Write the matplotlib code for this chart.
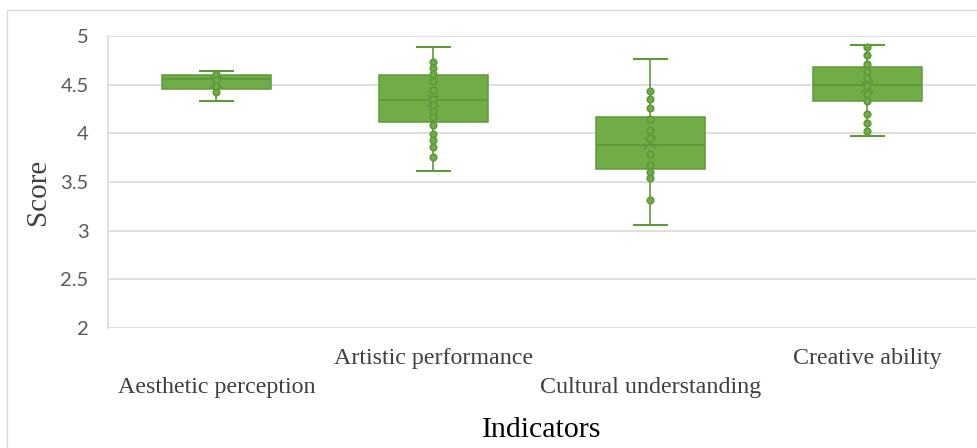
import numpy as np
import matplotlib.pyplot as plt
from matplotlib.patches import Rectangle
from matplotlib.transforms import ScaledTranslation

# categories and box statistics
categories = ["Aesthetic perception", "Artistic performance",
              "Cultural understanding", "Creative ability"]
whis_low = [4.33, 3.61, 3.06, 3.97]
q1 = [4.46, 4.12, 3.63, 4.33]
median = [4.56, 4.34, 3.88, 4.50]
q3 = [4.60, 4.60, 4.17, 4.68]
whis_high = [4.64, 4.89, 4.76, 4.91]
means = [4.53, 4.33, 3.90, 4.48]

# inner points
pts_aesthetic = [4.61, 4.55, 4.49, 4.42]
pts_artistic = [4.73, 4.67, 4.61, 4.54, 4.45, 4.35, 4.29, 4.23, 4.17,
                4.09, 3.99, 3.93, 3.86, 3.76]
pts_cultural = [4.43, 4.35, 4.26, 4.15, 4.03, 3.95, 3.79, 3.67, 3.60,
                3.54, 3.32]
pts_creative = [4.89, 4.80, 4.71, 4.64, 4.57, 4.49, 4.40, 4.33, 4.20,
                4.11, 4.02]
points = [pts_aesthetic, pts_artistic, pts_cultural, pts_creative]

yticks = [2, 2.5, 3, 3.5, 4, 4.5, 5]
ytick_labels = ["2", "2.5", "3", "3.5", "4", "4.5", "5"]

GREEN = "#70ad47"
DARK = "#5e9a3b"
GRID = "#d9d9d9"

fig = plt.figure(figsize=(9.78, 4.48), dpi=100)
ax = fig.add_axes([108 / 978, 120 / 448, 868 / 978, 292 / 448])

# chart area border (only top/left visible in the crop)
fig.patches.append(Rectangle((7 / 978, -0.2), 1.2, 1 - 10 / 448 + 0.2,
                             transform=fig.transFigure, fill=False,
                             edgecolor=GRID, lw=1))

pos = np.arange(1, len(categories) + 1)
stats = []
for i in range(len(categories)):
    stats.append(dict(med=median[i], q1=q1[i], q3=q3[i], whislo=whis_low[i],
                      whishi=whis_high[i], mean=means[i], fliers=[]))

ax.bxp(stats, positions=pos, widths=0.505, patch_artist=True, showmeans=True,
       boxprops=dict(facecolor=GREEN, edgecolor=DARK, lw=1.1),
       medianprops=dict(color=DARK, lw=1.5),
       whiskerprops=dict(color=DARK, lw=1.2),
       capprops=dict(color=DARK, lw=1.5), capwidths=0.15,
       meanprops=dict(marker="x", markeredgecolor=DARK, markersize=9,
                      markeredgewidth=1.3),
       zorder=3)

for i, vals in enumerate(points):
    ax.scatter(np.full(len(vals), pos[i]), vals, s=22, facecolor=GREEN,
               edgecolor=DARK, linewidth=1.2, zorder=4)

ax.set_xlim(0.5, 4.5)
ax.set_ylim(2, 5)
ax.set_yticks(yticks)
ax.set_yticklabels(ytick_labels, fontfamily="Lato", fontsize=14.5,
                   color="#595959")
ax.yaxis.grid(True, color=GRID, lw=1.2, zorder=0)
ax.set_axisbelow(True)
ax.tick_params(axis="y", length=0, pad=14)
ax.tick_params(axis="x", length=0, pad=14.5)

ax.set_xticks(pos)
ax.set_xticklabels(categories, fontfamily="Liberation Serif", fontsize=17.3,
                   color="#404040")
# staggered labels like Excel
shift = ScaledTranslation(0, -0.29, fig.dpi_scale_trans)
for lab in ax.get_xticklabels()[::2]:
    lab.set_transform(lab.get_transform() + shift)

for s in ["top", "right", "bottom"]:
    ax.spines[s].set_visible(False)
ax.spines["left"].set_color(GRID)
ax.spines["left"].set_linewidth(1.2)

fig.text(542 / 978, 1 - 430 / 448, "Indicators", ha="center", va="center",
         fontfamily="Liberation Serif", fontsize=21.5)
fig.text(38 / 978, 1 - 192 / 448, "Score", ha="center", va="center",
         rotation=90, fontfamily="Liberation Serif", fontsize=21,
         color="#404040")

fig.savefig("out.png", dpi=100)
